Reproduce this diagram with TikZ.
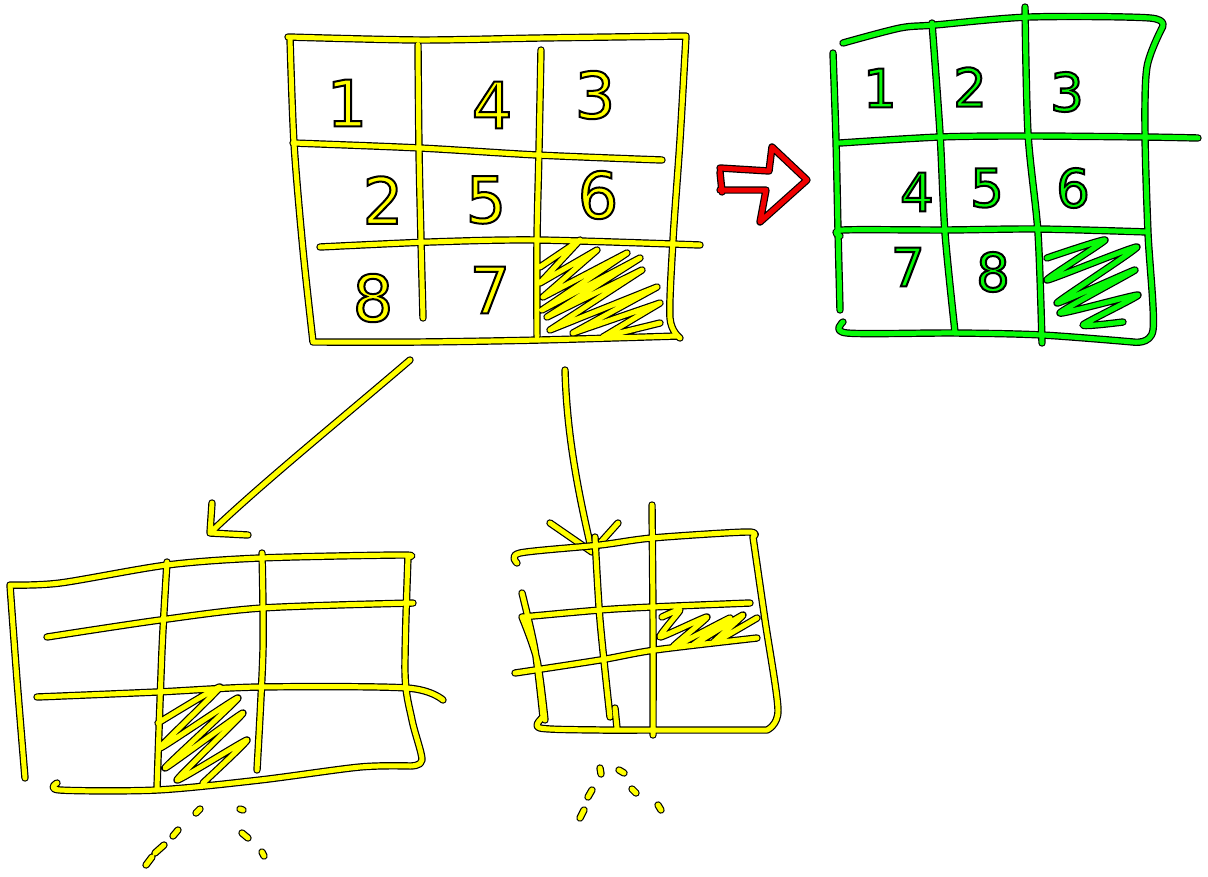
\documentclass[tikz,border=0pt]{standalone}
\usepackage{fontspec}
\setmainfont{Liberation Sans}
\newfontfamily\digitfont{DejaVu Sans}
\usetikzlibrary{positioning}
\definecolor{penyellow}{RGB}{255,255,0}
\definecolor{pengreen}{RGB}{8,250,8}
\definecolor{penred}{RGB}{240,0,0}
\newcommand{\handdigit}[2]{{\color{#1}\special{pdf:literal direct 2 Tr 2 w 0 0 0 RG}#2%
    \special{pdf:literal direct 0 Tr}}}

\begin{document}
\begin{tikzpicture}[x=1pt, y=-1pt,
    pen/.style={draw=black, double=#1, line width=1.2pt, double distance=5pt,
                line cap=round, line join=round},
    digit/.style={inner sep=0pt, font=\digitfont\fontsize{64}{64}\selectfont},
    smalldigit/.style={inner sep=0pt, font=\digitfont\fontsize{53}{53}\selectfont}]
    \useasboundingbox (0,0) rectangle (1208,876);
    % --- start state: yellow grid ---
    \draw[pen=penyellow]
      plot[smooth] coordinates {(288,37) (420,40) (540,38) (686,36)}
      plot[smooth] coordinates {(686,36) (680,140) (673,240) (670,318) (680,338)}
      plot[smooth] coordinates {(290,38) (294,143) (303,250) (313,342)}
      plot[smooth] coordinates {(313,342) (420,342) (540,340) (678,336)}
      plot[smooth] coordinates {(293,143) (420,148) (537,155) (662,160)}
      plot[smooth] coordinates {(320,247) (430,242) (537,240) (700,245)}
      plot[smooth] coordinates {(418,45) (419,150) (421,240) (423,318)}
      plot[smooth] coordinates {(541,50) (539,150) (537,240) (537,336)}
      % hatching of the empty cell
      (540,267) -- (580,240) -- (540,283) -- (597,250) -- (543,297) -- (627,253)
      -- (542,310) -- (640,258) -- (547,317) -- (642,270) -- (550,330) -- (657,287)
      -- (573,333) -- (660,303) -- (603,337) -- (660,323);
    \node[digit] (s1) at (347,103) {\handdigit{penyellow}{1}};
    \node[digit] (s4) at (492,105) {\handdigit{penyellow}{4}};
    \node[digit] (s3) at (595,95)  {\handdigit{penyellow}{3}};
    \node[digit] (s2) at (383,200) {\handdigit{penyellow}{2}};
    \node[digit] (s5) at (486,200) {\handdigit{penyellow}{5}};
    \node[digit] (s6) at (598,195) {\handdigit{penyellow}{6}};
    \node[digit] (s8) at (373,298) {\handdigit{penyellow}{8}};
    \node[digit] (s7) at (490,290) {\handdigit{penyellow}{7}};
    % --- red arrow to the goal ---
    \draw[pen=penred]
      (720,168) -- (769,171) -- (772,147) -- (807,180) -- (760,222)
      -- (766,190) -- (720,190) (720,172) -- (722,192);
    % --- goal state: green grid ---
    \draw[pen=pengreen]
      plot[smooth] coordinates {(843,43) (900,28) (935,25) (1030,17) (1150,18) (1162,28)}
      plot[smooth] coordinates {(1162,28) (1147,67) (1145,133) (1148,233) (1153,330) (1133,342)}
      plot[smooth] coordinates {(833,53) (836,140) (838,230) (840,310)}
      plot[smooth] coordinates {(843,322) (847,333) (955,333) (1042,335) (1133,342)}
      plot[smooth] coordinates {(840,143) (940,137) (1028,136) (1145,137) (1198,138)}
      plot[smooth] coordinates {(840,236) (843,230) (945,230) (1038,229) (1148,232)}
      plot[smooth] coordinates {(932,23) (940,133) (945,233) (955,332)}
      plot[smooth] coordinates {(1025,7) (1028,133) (1038,233) (1042,343)}
      % scribble of the empty cell
      plot[smooth, tension=0.3] coordinates {(1047,258) (1105,240) (1047,280) (1137,247)
        (1057,303) (1135,270) (1060,313) (1138,295) (1083,325) (1123,322)};
    \node[smalldigit] (g1) at (880,88)  {\handdigit{pengreen}{1}};
    \node[smalldigit] (g2) at (970,87)  {\handdigit{pengreen}{2}};
    \node[smalldigit] (g3) at (1067,92) {\handdigit{pengreen}{3}};
    \node[smalldigit] (g4) at (917,192) {\handdigit{pengreen}{4}};
    \node[smalldigit] (g5) at (987,188) {\handdigit{pengreen}{5}};
    \node[smalldigit] (g6) at (1073,188) {\handdigit{pengreen}{6}};
    \node[smalldigit] (g7) at (908,267) {\handdigit{pengreen}{7}};
    \node[smalldigit] (g8) at (993,272) {\handdigit{pengreen}{8}};
    % --- moves to the child states ---
    \coordinate (fromL) at (410,360);
    \coordinate (toL)   at (210,533);
    \coordinate (fromR) at (565,370);
    \coordinate (toR)   at (592,552);
    \draw[pen=penyellow] (fromL) .. controls (340,420) and (260,485) .. (toL)
      (212,503) -- (toL) -- (248,535);
    \draw[pen=penyellow] (fromR) .. controls (567,440) and (580,500) .. (toR)
      (550,523) -- (toR) -- (618,523);
    % --- left child ---
    \draw[pen=penyellow]
      plot[smooth] coordinates {(10,585) (60,583) (167,565) (260,558) (400,555) (408,557)}
      plot[smooth] coordinates {(10,585) (17,680) (25,778)}
      plot[smooth] coordinates {(408,557) (405,673) (412,720) (422,760) (410,766)}
      plot[smooth] coordinates {(57,783) (60,790) (157,790) (260,780) (360,767) (410,766)}
      plot[smooth] coordinates {(47,637) (160,620) (262,608) (413,603)}
      plot[smooth] coordinates {(37,697) (157,692) (260,687) (407,688) (443,700)}
      plot[smooth] coordinates {(167,562) (162,650) (157,788)}
      plot[smooth] coordinates {(262,553) (263,650) (257,770)}
      plot[smooth, tension=0.3] coordinates {(158,723) (220,687) (160,748) (238,698)
        (165,768) (243,713) (177,780) (247,740) (203,783)}
      % dots below
      (196,813) -- (200,809) (173,836) -- (178,830) (155,853) -- (164,845)
      (146,865) -- (152,857) (240,809) -- (243,810) (242,833) -- (248,838)
      (262,852) -- (264,856);
    % --- right child ---
    \draw[pen=penyellow]
      plot[smooth] coordinates {(517,563) (520,553) (600,545) (652,538) (747,532) (753,537)}
      plot[smooth] coordinates {(753,537) (765,620) (778,710) (767,730)}
      plot[smooth] coordinates {(543,717) (540,728) (600,730) (653,730) (767,730)}
      plot[smooth] coordinates {(522,593) (535,650) (543,717)}
      plot[smooth] coordinates {(522,617) (537,660) (545,720)}
      plot[smooth] coordinates {(522,617) (600,610) (652,607) (750,603)}
      plot[smooth] coordinates {(515,673) (600,660) (655,650) (757,638)}
      plot[smooth] coordinates {(595,537) (600,620) (610,717)}
      (615,708) -- (617,728)
      plot[smooth] coordinates {(652,505) (653,620) (653,735)}
      plot[smooth, tension=0.3] coordinates {(662,617) (680,610) (660,637) (707,617)
        (673,647) (730,618) (693,645) (743,615) (713,643) (757,618)}
      % dots below
      (600,768) -- (601,774) (619,770) -- (624,773) (588,797) -- (592,790)
      (580,818) -- (584,810) (632,789) -- (636,793) (658,805) -- (661,810);
\end{tikzpicture}
\end{document}
